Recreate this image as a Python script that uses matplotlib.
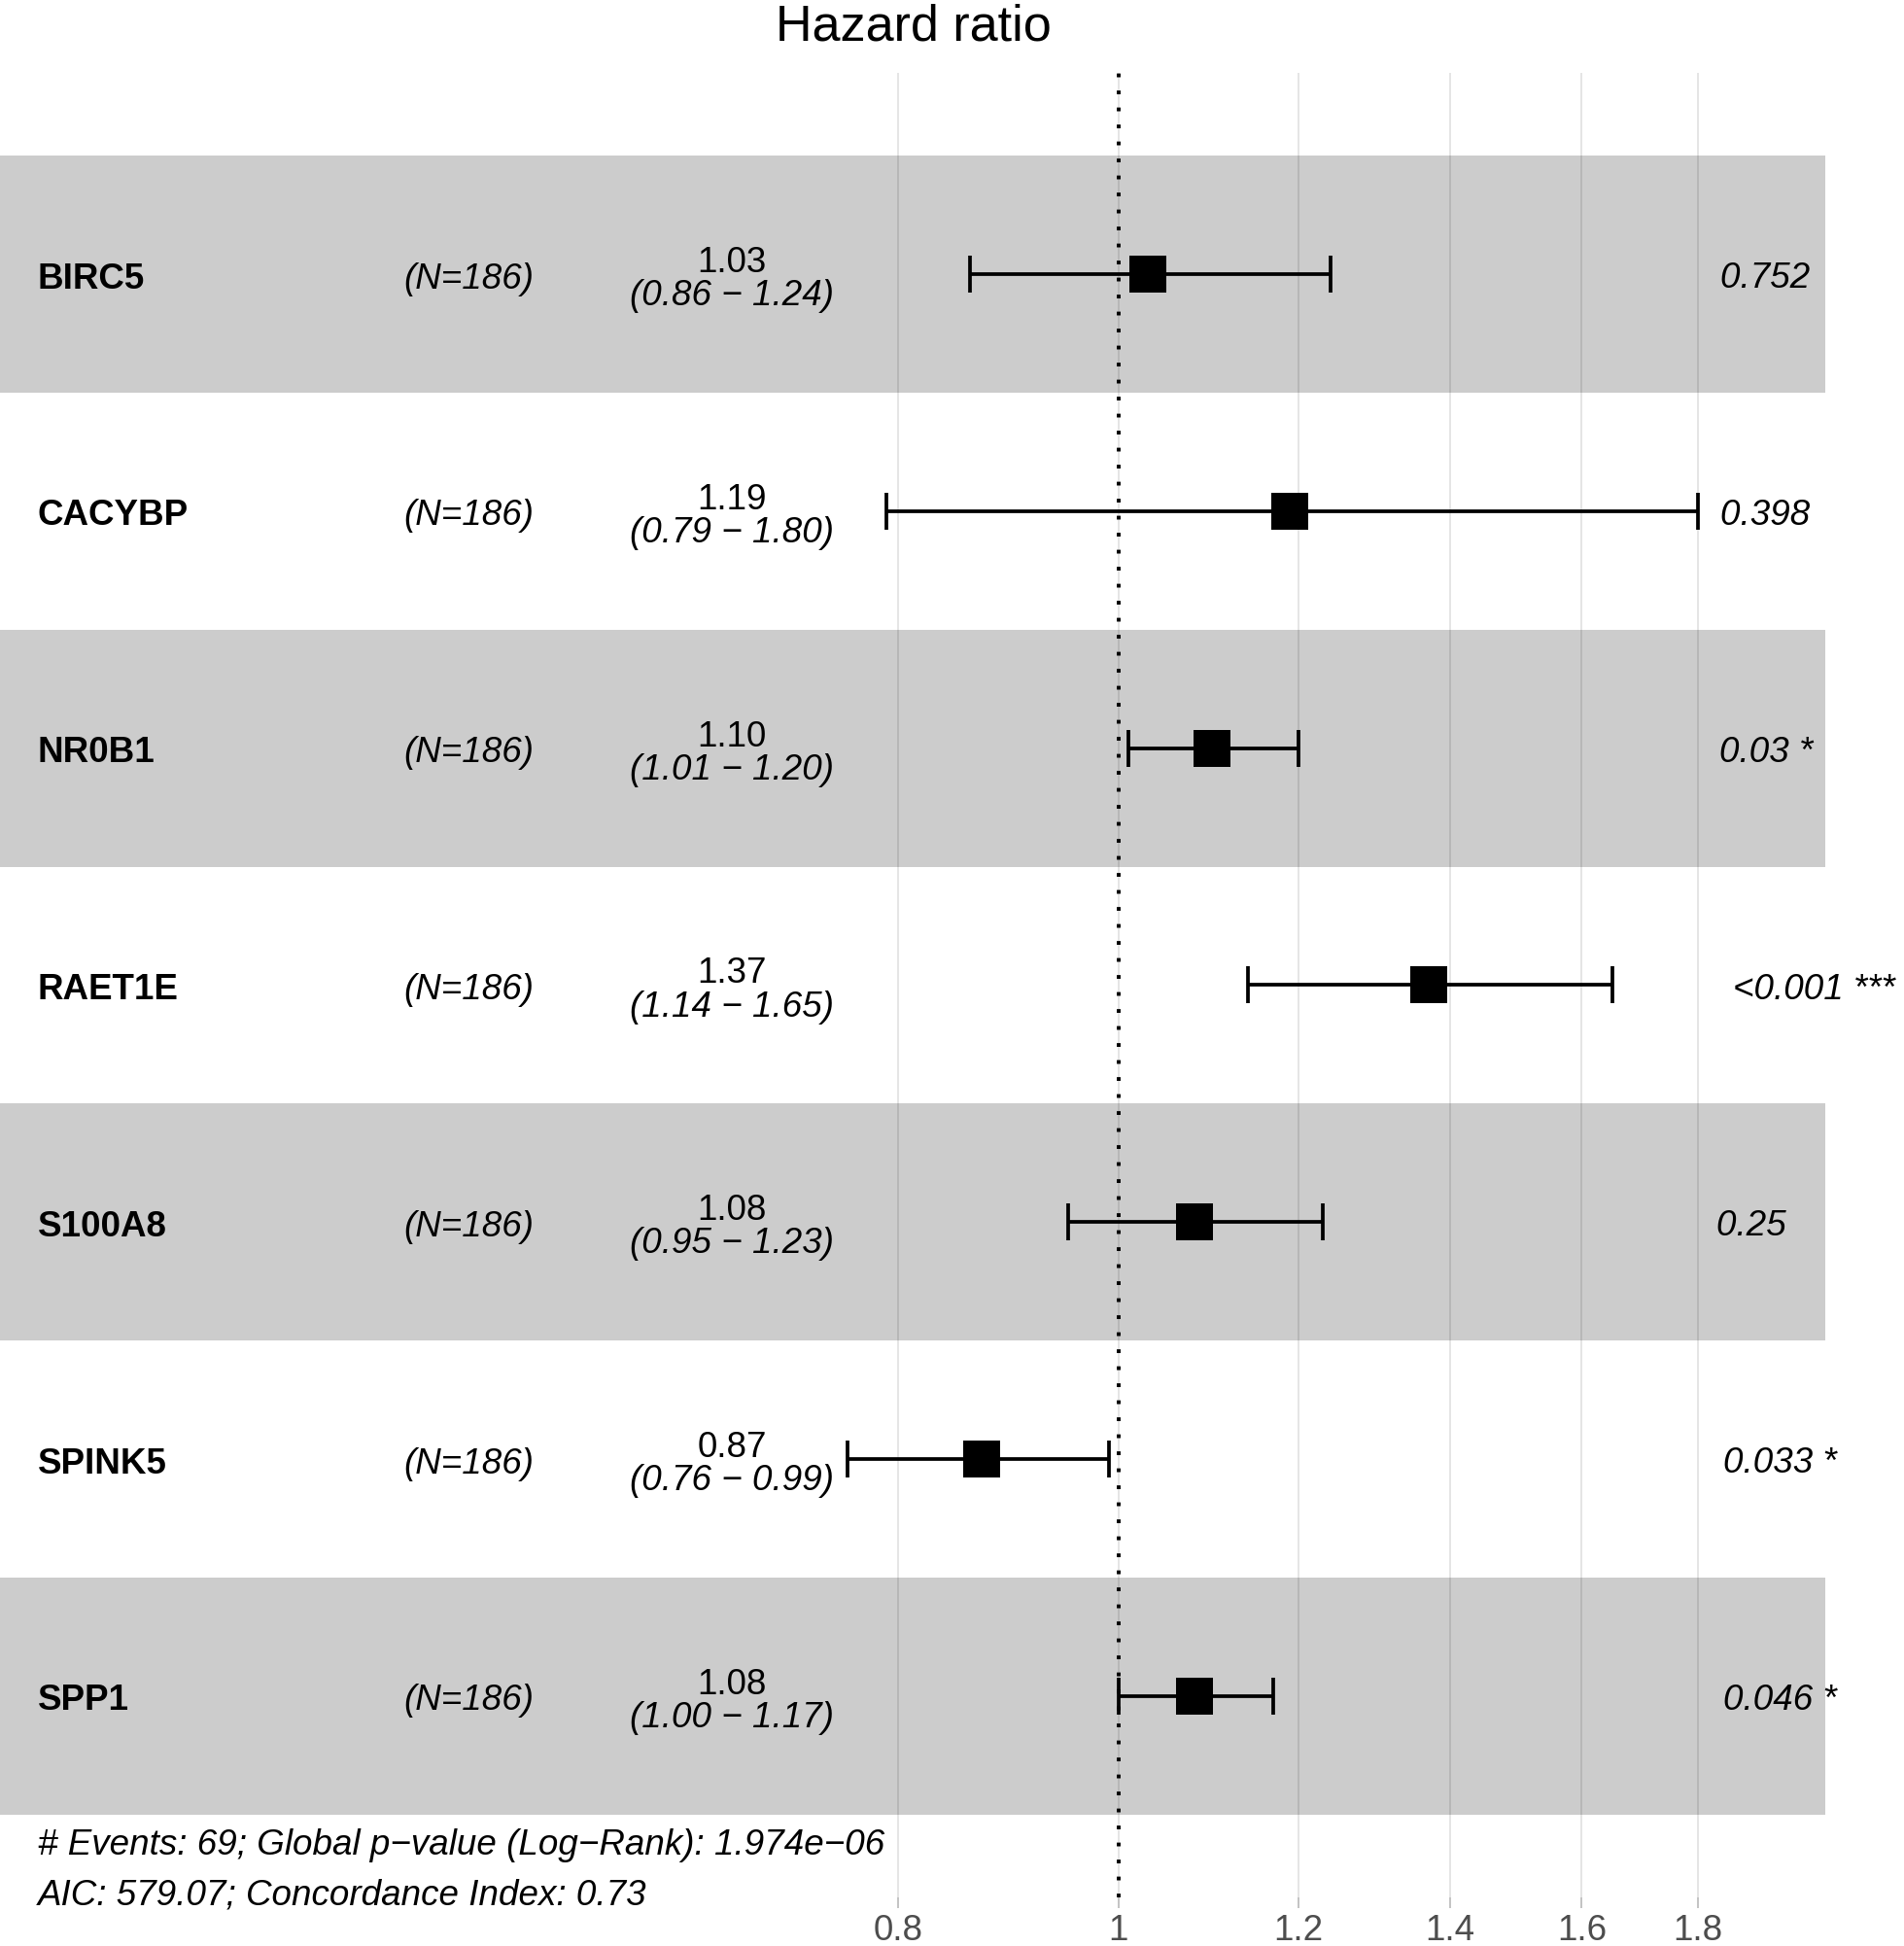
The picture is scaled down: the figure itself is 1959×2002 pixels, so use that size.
import numpy as np
import matplotlib.pyplot as plt
import matplotlib.transforms as mtransforms
from matplotlib.ticker import NullLocator, FixedLocator, FixedFormatter

plt.rcParams['font.family'] = ['Liberation Sans', 'DejaVu Sans']

# Cox model results, one row per gene (top to bottom)
genes = ["BIRC5", "CACYBP", "NR0B1", "RAET1E", "S100A8", "SPINK5", "SPP1"]
n_obs = [186, 186, 186, 186, 186, 186, 186]
hr = [1.03, 1.19, 1.10, 1.37, 1.08, 0.87, 1.08]
ci_low = [0.86, 0.79, 1.01, 1.14, 0.95, 0.76, 1.00]
ci_high = [1.24, 1.80, 1.20, 1.65, 1.23, 0.99, 1.17]
p_text = ["0.752", "0.398", "0.03", "<0.001", "0.25", "0.033", "0.046"]
p_stars = ["", "", "*", "***", "", "*", "*"]

# model summary for the footer
n_events = 69
global_p = "1.974e\u221206"
aic = 579.07
c_index = 0.73

x_breaks = [0.8, 1, 1.2, 1.4, 1.6, 1.8]
x_break_labels = ["0.8", "1", "1.2", "1.4", "1.6", "1.8"]

MINUS = "\u2212"
FS = 26.5

hr = np.array(hr)
ci_low = np.array(ci_low)
ci_high = np.array(ci_high)
rows = np.arange(1, len(genes) + 1)

# x range in log space, same recipe as survminer's ggforest
rangeb = np.array([np.log(ci_low.min()), np.log(ci_high.max())])
span = rangeb[1] - rangeb[0]
rangeplot = np.array([rangeb[0] - span, rangeb[1] + 0.15 * span])
width = rangeplot[1] - rangeplot[0]
x_var = np.exp(rangeplot[0] + 0.02 * width)
x_n = np.exp(rangeplot[0] + 0.22 * width)
x_ci = np.exp(rangeplot[0] + 0.40 * width)
x_p = np.exp(rangeb[1])

W, H = 1959, 2002
fig = plt.figure(figsize=(W / 100, H / 100), dpi=100)
top_px, bot_px = 75, 1952
ax = fig.add_axes([-2 / W, 1 - bot_px / H, 1880 / W, (bot_px - top_px) / H])

ax.set_xscale('log')
ax.set_xlim(np.exp(rangeplot))
ax.set_ylim(len(genes) + 0.5 + 0.35, 0.5 - 0.35)

ax.xaxis.set_major_locator(FixedLocator(x_breaks))
ax.xaxis.set_major_formatter(FixedFormatter(x_break_labels))
ax.xaxis.set_minor_locator(NullLocator())
ax.set_yticks([])
for s in ax.spines.values():
    s.set_visible(False)
ax.set_axisbelow(True)
ax.grid(axis='x', color='#dedede', lw=1.1)
ax.tick_params(axis='x', length=7.9, width=1.1, color='#b3b3b3',
               labelsize=FS, labelcolor='#4d4d4d', pad=4)

# alternating bands
for r in rows:
    if r % 2 == 1:
        ax.axhspan(r - 0.5, r + 0.5, color='black', alpha=0.2, lw=0, zorder=1)

ax.axvline(1, color='black', lw=2.8, linestyle=(0, (1, 3.5)), zorder=2)

ax.errorbar(hr, rows, xerr=[hr - ci_low, ci_high - hr], fmt='none',
            ecolor='black', elinewidth=2.7, capsize=13.7, capthick=2.7, zorder=3)
ax.plot(hr, rows, 's', ms=28, color='black', mew=0, zorder=4)


def shifted(dx=0, dy=0):
    return mtransforms.offset_copy(ax.transData, fig=fig, x=dx + 3, y=dy, units='dots')


p_labels = []
for i, r in enumerate(rows):
    ax.text(x_var, r, genes[i], fontsize=FS, fontweight='bold', ha='left',
            va='baseline', transform=shifted(dy=-14.5), clip_on=False)
    ax.text(x_n, r, f"(N={n_obs[i]})", fontsize=FS, style='italic', ha='left',
            va='baseline', transform=shifted(dx=1, dy=-14.5), clip_on=False)
    ax.text(x_ci, r, f"{hr[i]:.2f}", fontsize=FS, ha='center',
            va='baseline', transform=shifted(dy=2), clip_on=False)
    ax.text(x_ci, r, f"({ci_low[i]:.2f} {MINUS} {ci_high[i]:.2f})", fontsize=FS,
            style='italic', ha='center', va='baseline',
            transform=shifted(dy=-32), clip_on=False)
    t = ax.text(x_p, r, f"{p_text[i]} {p_stars[i]}", fontsize=FS, style='italic',
                ha='left', va='baseline', transform=shifted(dy=-14), clip_on=False)
    p_labels.append(t)

# footer with model summary
y_foot = len(genes) + 0.5
ax.text(x_var, y_foot,
        f"# Events: {n_events}; Global p{MINUS}value (Log{MINUS}Rank): {global_p}",
        fontsize=FS, style='italic', ha='left', va='baseline',
        transform=shifted(dy=-41), clip_on=False)
ax.text(x_var, y_foot, f"AIC: {aic:.2f}; Concordance Index: {c_index:.2f}",
        fontsize=FS, style='italic', ha='left', va='baseline',
        transform=shifted(dy=-93), clip_on=False)

fig.text(940 / W, 1 - 41.7 / H, "Hazard ratio", fontsize=37.5,
         ha='center', va='baseline')

# ggplot hjust = -0.2 for the p-value column
fig.canvas.draw()
renderer = fig.canvas.get_renderer()
for t in p_labels:
    w = t.get_window_extent(renderer).width
    t.set_transform(shifted(dx=0.2 * w, dy=-14))

fig.savefig("out.png", dpi=100)
